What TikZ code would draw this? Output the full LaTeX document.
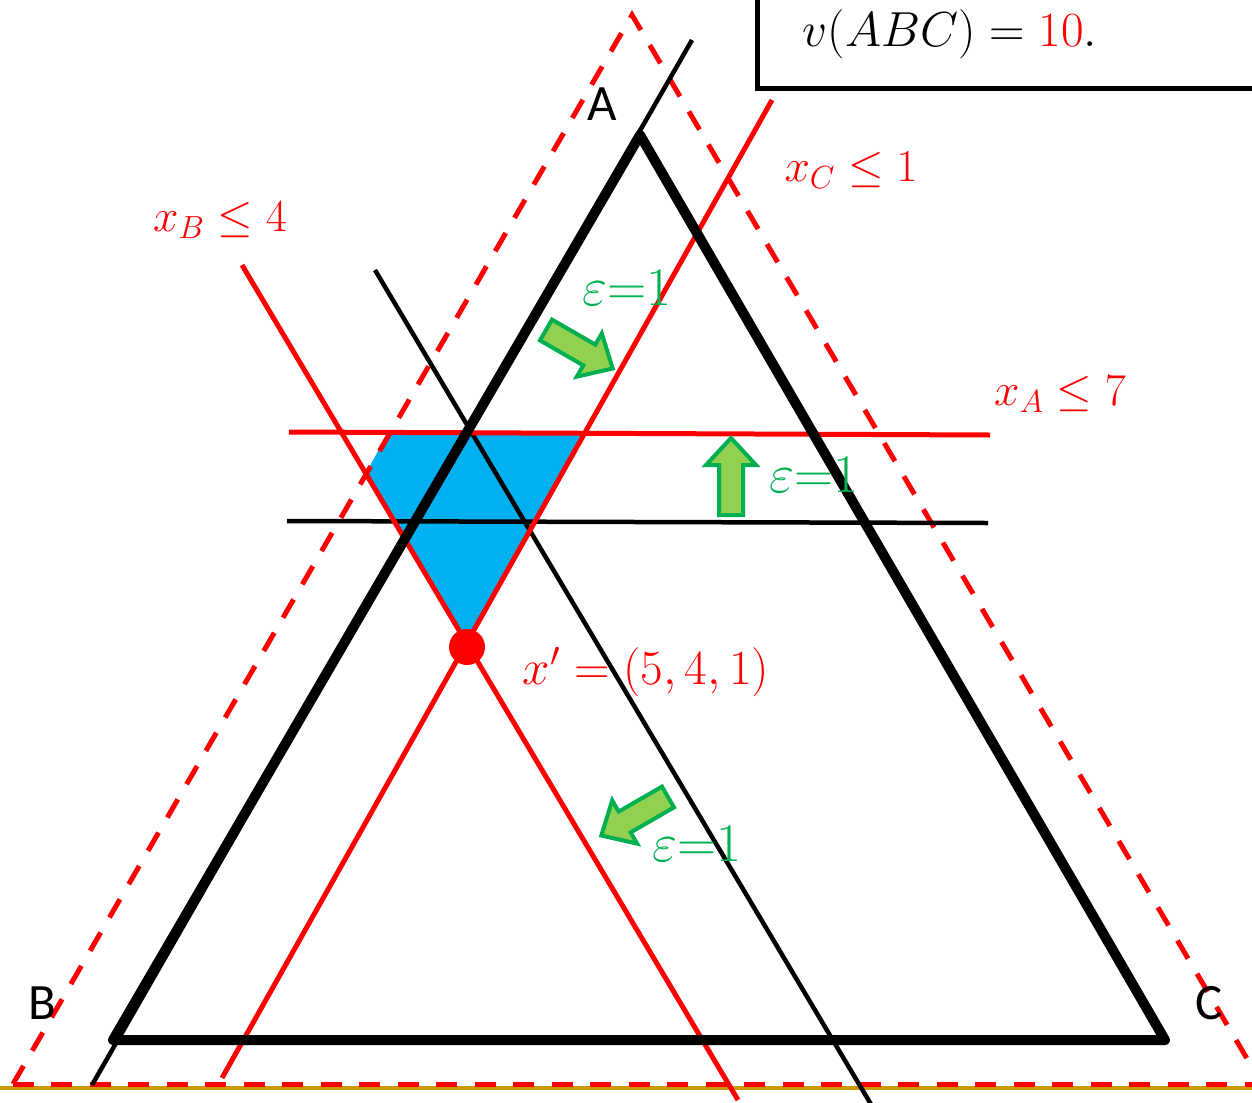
\RequirePackage{fix-cm}
\documentclass[tikz,border=0pt]{standalone}
\usepackage{fontspec}
\newfontfamily\labelfont{Carlito}
\usetikzlibrary{calc}
\definecolor{myred}{RGB}{255,0,0}
\definecolor{mygreen}{RGB}{0,176,80}
\definecolor{lgreen}{RGB}{146,208,80}
\definecolor{myblue}{RGB}{0,176,240}
\definecolor{gold}{RGB}{204,153,0}
\tikzset{
  thickline/.style={line width=0.2cm, line join=round, line cap=round},
  thinline/.style={line width=0.09cm},
  redline/.style={myred, line width=0.1cm},
  reddash/.style={myred, line width=0.1cm, dash pattern=on 0.42cm off 0.35cm},
  redtext/.style={text=myred, font=\fontsize{26}{30}\selectfont},
  greentext/.style={text=mygreen, font=\fontsize{31}{34}\selectfont},
  vertexlabel/.style={font=\labelfont\fontsize{29}{32}\selectfont},
  blockarrow/.pic={
    \draw[draw=mygreen, fill=lgreen, line width=0.08cm, line join=miter]
      (0,-12) -- (50,-12) -- (50,-25) -- (77,0) -- (50,25) -- (50,12) -- (0,12) -- cycle;
  }
}
\begin{document}
\begin{tikzpicture}[x=0.02cm, y=-0.02cm]
\useasboundingbox (0,0) rectangle (1252,1103);
\clip (0,0) rectangle (1252,1103);

% coordinates
\coordinate (A) at (640,135);
\coordinate (B) at (113,1040);
\coordinate (C) at (1165,1040);
\coordinate (DA) at (632,15);
\coordinate (DB) at (13,1084);
\coordinate (DC) at (1262,1084);
\coordinate (ABlo) at (92,1085);
\coordinate (ABhi) at (692,40);
\coordinate (ACtop) at (375,270);
\coordinate (ACbot) at (872,1106);
\coordinate (XBtop) at (242,265);
\coordinate (XBbot) at (738,1100);
\coordinate (XCtop) at (772,100);
\coordinate (XCbot) at (222,1078);
\coordinate (HAl) at (289,432);
\coordinate (HAr) at (990,435);
\coordinate (Hl) at (287,521);
\coordinate (Hr) at (988,523);
\coordinate (xp) at (467,647);
\coordinate (G1) at (0,1088);
\coordinate (G2) at (1252,1088);

% feasible region
\fill[myblue] (388,433) -- (366,473) -- (xp) -- (584,433) -- cycle;

% baseline
\draw[gold, line width=0.07cm] (G1) -- (G2);

% dashed outer triangle
\draw[reddash] (DB) -- (DA) -- (DC);
\draw[reddash] (DB) -- (DC);

% thin black lines
\draw[thinline] (ABlo) -- (ABhi);
\draw[thinline] (ACtop) -- (ACbot);
\draw[thinline] (Hl) -- (Hr);

% red constraint lines
\draw[redline] (XBtop) -- (XBbot);
\draw[redline] (XCtop) -- (XCbot);
\draw[redline] (HAl) -- (HAr);

% main triangle
\draw[thickline] (A) -- (B) -- (C) -- cycle;

% point x'
\fill[myred] (xp) circle (18);

% block arrows
\pic[rotate=-30] at (546,330) {blockarrow};
\pic[rotate=90] at (731,515) {blockarrow};
\pic[rotate=210] at (668,797) {blockarrow};

% labels
\node[vertexlabel] (la) at (602,104) {A};
\node[vertexlabel] (lb) at (42,1003) {B};
\node[vertexlabel] (lc) at (1209,1003) {C};
\node[redtext] (lxb) at (220,220) {$x_B\leq 4$};
\node[redtext] (lxc) at (851,170) {$x_C\leq 1$};
\node[redtext] (lxa) at (1060,394) {$x_A\leq 7$};
\node[redtext, font=\fontsize{28}{32}\selectfont] (lxp) at (646,672) {$x'=(5,4,1)$};
\node[greentext] (e1) at (627,288) {$\varepsilon{=}1$};
\node[greentext] (e2) at (814,475) {$\varepsilon{=}1$};
\node[greentext] (e3) at (697,844) {$\varepsilon{=}1$};

% value box
\draw[line width=0.1cm] (757,-10) -- (757,88) -- (1262,88);
\node[font=\fontsize{28}{32}\selectfont] (val) at (950,34) {$v(ABC)=\textcolor{myred}{10}.$};
\end{tikzpicture}
\end{document}
